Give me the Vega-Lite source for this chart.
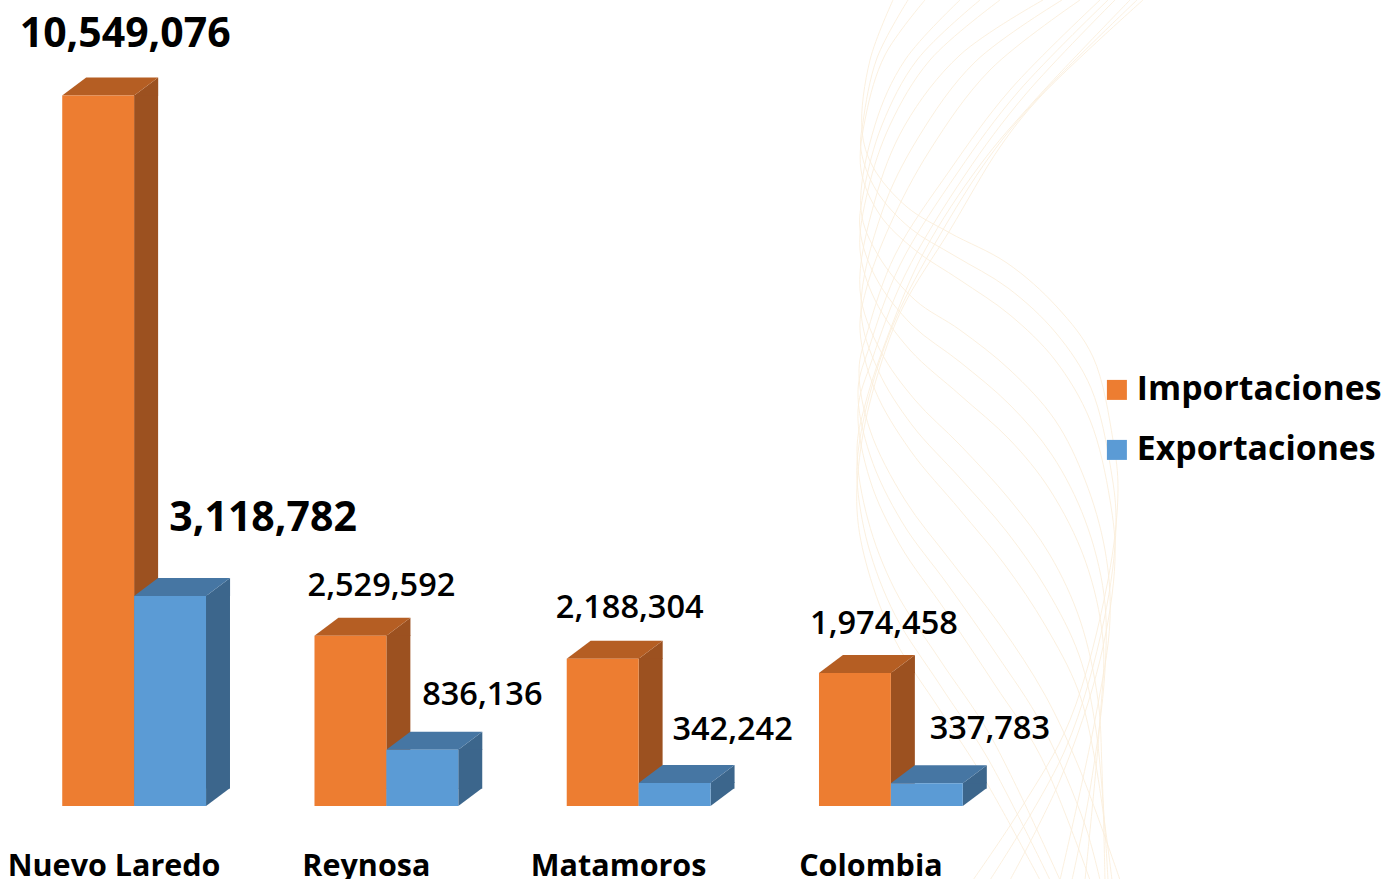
{"$schema":"https://vega.github.io/schema/vega-lite/v6.json","width":1384,"height":879,"padding":0,"autosize":{"type":"none"},"background":"white","config":{"view":{"stroke":null},"font":"Open Sans"},
"datasets":{"bars":[
{"ciudad":"Nuevo Laredo","serie":"Importaciones","valor":10549076},{"ciudad":"Nuevo Laredo","serie":"Exportaciones","valor":3118782},
{"ciudad":"Reynosa","serie":"Importaciones","valor":2529592},{"ciudad":"Reynosa","serie":"Exportaciones","valor":836136},
{"ciudad":"Matamoros","serie":"Importaciones","valor":2188304},{"ciudad":"Matamoros","serie":"Exportaciones","valor":342242},
{"ciudad":"Colombia","serie":"Importaciones","valor":1974458},{"ciudad":"Colombia","serie":"Exportaciones","valor":337783}],
"waves":[
{"w":"k0","a":893,"b":0},{"w":"k0","a":870,"b":60},{"w":"k0","a":862,"b":130},{"w":"k0","a":873,"b":167},{"w":"k0","a":907,"b":207},{"w":"k0","a":950,"b":233},{"w":"k0","a":1007,"b":263},{"w":"k0","a":1057,"b":307},{"w":"k0","a":1093,"b":357},{"w":"k0","a":1113,"b":440},{"w":"k0","a":1118,"b":490},{"w":"k0","a":1108,"b":580},{"w":"k0","a":1070,"b":720},{"w":"k0","a":1020,"b":810},{"w":"k0","a":973,"b":880},
{"w":"m0","a":908,"b":0},{"w":"m0","a":877,"b":58},{"w":"m0","a":863,"b":122},{"w":"m0","a":861,"b":150},{"w":"m0","a":876,"b":190},{"w":"m0","a":910,"b":228},{"w":"m0","a":955,"b":256},{"w":"m0","a":1008,"b":288},{"w":"m0","a":1056,"b":333},{"w":"m0","a":1091,"b":388},{"w":"m0","a":1111,"b":470},{"w":"m0","a":1116,"b":525},{"w":"m0","a":1104,"b":620},{"w":"m0","a":1065,"b":750},{"w":"m0","a":990,"b":880},
{"w":"k1","a":925,"b":0},{"w":"k1","a":885,"b":55},{"w":"k1","a":866,"b":115},{"w":"k1","a":861,"b":170},{"w":"k1","a":880,"b":215},{"w":"k1","a":915,"b":250},{"w":"k1","a":960,"b":280},{"w":"k1","a":1010,"b":315},{"w":"k1","a":1055,"b":360},{"w":"k1","a":1090,"b":420},{"w":"k1","a":1110,"b":500},{"w":"k1","a":1115,"b":560},{"w":"k1","a":1100,"b":660},{"w":"k1","a":1060,"b":780},{"w":"k1","a":1010,"b":880},
{"w":"k2","a":960,"b":0},{"w":"k2","a":905,"b":60},{"w":"k2","a":875,"b":125},{"w":"k2","a":861,"b":210},{"w":"k2","a":878,"b":255},{"w":"k2","a":915,"b":300},{"w":"k2","a":960,"b":330},{"w":"k2","a":1010,"b":370},{"w":"k2","a":1055,"b":420},{"w":"k2","a":1085,"b":480},{"w":"k2","a":1105,"b":550},{"w":"k2","a":1110,"b":620},{"w":"k2","a":1095,"b":720},{"w":"k2","a":1060,"b":880},
{"w":"m2","a":980,"b":0},{"w":"m2","a":917,"b":60},{"w":"m2","a":882,"b":125},{"w":"m2","a":864,"b":190},{"w":"m2","a":860,"b":230},{"w":"m2","a":876,"b":278},{"w":"m2","a":912,"b":325},{"w":"m2","a":960,"b":362},{"w":"m2","a":1010,"b":405},{"w":"m2","a":1052,"b":455},{"w":"m2","a":1085,"b":520},{"w":"m2","a":1104,"b":595},{"w":"m2","a":1105,"b":670},{"w":"m2","a":1090,"b":790},{"w":"m2","a":1072,"b":880},
{"w":"k3","a":1000,"b":0},{"w":"k3","a":930,"b":60},{"w":"k3","a":890,"b":125},{"w":"k3","a":868,"b":190},{"w":"k3","a":860,"b":250},{"w":"k3","a":875,"b":300},{"w":"k3","a":910,"b":350},{"w":"k3","a":960,"b":395},{"w":"k3","a":1010,"b":440},{"w":"k3","a":1050,"b":490},{"w":"k3","a":1085,"b":560},{"w":"k3","a":1103,"b":640},{"w":"k3","a":1100,"b":720},{"w":"k3","a":1085,"b":880},
{"w":"k4","a":1043,"b":0},{"w":"k4","a":960,"b":55},{"w":"k4","a":905,"b":125},{"w":"k4","a":875,"b":200},{"w":"k4","a":860,"b":290},{"w":"k4","a":880,"b":350},{"w":"k4","a":915,"b":400},{"w":"k4","a":960,"b":445},{"w":"k4","a":1010,"b":500},{"w":"k4","a":1050,"b":555},{"w":"k4","a":1080,"b":620},{"w":"k4","a":1098,"b":700},{"w":"k4","a":1102,"b":770},{"w":"k4","a":1105,"b":880},
{"w":"m4","a":1062,"b":0},{"w":"m4","a":975,"b":62},{"w":"m4","a":918,"b":138},{"w":"m4","a":882,"b":212},{"w":"m4","a":861,"b":310},{"w":"m4","a":878,"b":370},{"w":"m4","a":912,"b":425},{"w":"m4","a":960,"b":478},{"w":"m4","a":1007,"b":532},{"w":"m4","a":1047,"b":590},{"w":"m4","a":1079,"b":655},{"w":"m4","a":1096,"b":730},{"w":"m4","a":1108,"b":880},
{"w":"k5","a":1080,"b":0},{"w":"k5","a":990,"b":70},{"w":"k5","a":930,"b":150},{"w":"k5","a":890,"b":225},{"w":"k5","a":866,"b":290},{"w":"k5","a":860,"b":330},{"w":"k5","a":875,"b":390},{"w":"k5","a":910,"b":450},{"w":"k5","a":960,"b":510},{"w":"k5","a":1005,"b":565},{"w":"k5","a":1045,"b":625},{"w":"k5","a":1078,"b":690},{"w":"k5","a":1095,"b":760},{"w":"k5","a":1112,"b":880},
{"w":"k6","a":1100,"b":0},{"w":"k6","a":1010,"b":90},{"w":"k6","a":950,"b":170},{"w":"k6","a":895,"b":255},{"w":"k6","a":868,"b":330},{"w":"k6","a":859,"b":370},{"w":"k6","a":870,"b":430},{"w":"k6","a":905,"b":500},{"w":"k6","a":950,"b":560},{"w":"k6","a":1000,"b":625},{"w":"k6","a":1045,"b":695},{"w":"k6","a":1080,"b":770},{"w":"k6","a":1120,"b":880},
{"w":"m6","a":1108,"b":0},{"w":"m6","a":1018,"b":92},{"w":"m6","a":958,"b":172},{"w":"m6","a":900,"b":265},{"w":"m6","a":870,"b":345},{"w":"m6","a":858,"b":390},{"w":"m6","a":870,"b":455},{"w":"m6","a":902,"b":522},{"w":"m6","a":948,"b":585},{"w":"m6","a":997,"b":655},{"w":"m6","a":1042,"b":725},{"w":"m6","a":1085,"b":825},{"w":"m6","a":1100,"b":880},
{"w":"k7","a":1115,"b":0},{"w":"k7","a":1025,"b":95},{"w":"k7","a":965,"b":175},{"w":"k7","a":905,"b":275},{"w":"k7","a":872,"b":360},{"w":"k7","a":858,"b":410},{"w":"k7","a":870,"b":480},{"w":"k7","a":900,"b":545},{"w":"k7","a":945,"b":610},{"w":"k7","a":995,"b":685},{"w":"k7","a":1040,"b":755},{"w":"k7","a":1090,"b":880},
{"w":"k8","a":1130,"b":0},{"w":"k8","a":1035,"b":100},{"w":"k8","a":980,"b":165},{"w":"k8","a":925,"b":250},{"w":"k8","a":890,"b":330},{"w":"k8","a":865,"b":405},{"w":"k8","a":857,"b":450},{"w":"k8","a":868,"b":520},{"w":"k8","a":895,"b":590},{"w":"k8","a":940,"b":660},{"w":"k8","a":990,"b":735},{"w":"k8","a":1060,"b":880},
{"w":"m8","a":1137,"b":0},{"w":"m8","a":1038,"b":98},{"w":"m8","a":990,"b":156},{"w":"m8","a":937,"b":240},{"w":"m8","a":896,"b":318},{"w":"m8","a":872,"b":386},{"w":"m8","a":859,"b":445},{"w":"m8","a":857,"b":480},{"w":"m8","a":868,"b":545},{"w":"m8","a":895,"b":615},{"w":"m8","a":940,"b":685},{"w":"m8","a":987,"b":757},{"w":"m8","a":1050,"b":880},
{"w":"k9","a":1143,"b":0},{"w":"k9","a":1040,"b":97},{"w":"k9","a":1000,"b":147},{"w":"k9","a":950,"b":230},{"w":"k9","a":903,"b":307},{"w":"k9","a":880,"b":367},{"w":"k9","a":862,"b":440},{"w":"k9","a":857,"b":510},{"w":"k9","a":868,"b":570},{"w":"k9","a":895,"b":640},{"w":"k9","a":940,"b":710},{"w":"k9","a":985,"b":780},{"w":"k9","a":1040,"b":880}
]},
"resolve":{"scale":{"x":"independent","y":"independent"},"axis":{"x":"independent","y":"independent"}},
"layer":[
{"data":{"name":"waves"},"mark":{"type":"line","interpolate":"catmull-rom","stroke":"#fbeedb","strokeWidth":0.9,"clip":true},
"encoding":{"x":{"field":"a","type":"quantitative","axis":null,"scale":{"domain":[0,1384],"range":[0,1384],"nice":false,"zero":false}},"y":{"field":"b","type":"quantitative","axis":null,"scale":{"domain":[0,879],"range":[0,879],"nice":false,"zero":false}},"detail":{"field":"w"},"order":{"field":"b","type":"quantitative"}}},
{"data":{"name":"bars"},
"encoding":{
"x":{"field":"ciudad","type":"nominal","sort":null,"title":null,"scale":{"range":[8,1017],"paddingInner":0.43,"paddingOuter":0.215},"axis":{"orient":"bottom","offset":-73,"domain":false,"ticks":false,"labelAngle":0,"labelOffset":-20,"labelPadding":60,"labelFontSize":30.5,"labelFontWeight":"bold","labelFont":"Open Sans","labelColor":"#000000","labelBaseline":"middle","labelOverlap":false,"labelFlush":false,"labelLimit":0,"grid":false}},
"xOffset":{"field":"serie","type":"nominal","scale":{"domain":["Importaciones","Exportaciones"],"paddingInner":0,"paddingOuter":0}},
"y":{"field":"valor","type":"quantitative","axis":null,"stack":null,"scale":{"domain":[0,11969100],"range":[806,0],"nice":false}}},
"layer":[
{"transform":[{"filter":"datum.serie==='Importaciones'"}],"mark":{"type":"rule","strokeWidth":24,"yOffset":-0.7,"y2Offset":-17.5,"stroke":"#9c5120"},"encoding":{"x":{"field":"ciudad","type":"nominal","sort":null,"bandPosition":0.5833},"xOffset":null,"y2":{"datum":0}}},
{"transform":[{"filter":"datum.serie==='Exportaciones'"}],"mark":{"type":"rule","strokeWidth":24,"yOffset":-0.7,"y2Offset":-17.5,"stroke":"#3c668c"},"encoding":{"x":{"field":"ciudad","type":"nominal","sort":null,"bandPosition":1.0833},"xOffset":null,"y2":{"datum":0}}},
{"mark":{"type":"point","filled":true,"opacity":1,"size":400,"shape":"M3.6,0 L6,-1.8 L6,0 Z"},"encoding":{"color":{"condition":{"test":"datum.serie==='Importaciones'","value":"#9c5120"},"value":"#3c668c"}}},
{"mark":{"type":"point","filled":true,"opacity":1,"size":400,"shape":"M3.6,0 L6,-1.8 L3.6,-1.8 Z"},"encoding":{"y":{"datum":0},"color":{"condition":{"test":"datum.serie==='Importaciones'","value":"#9c5120"},"value":"#3c668c"}}},
{"mark":{"type":"point","filled":true,"opacity":1,"size":400,"shape":"M-3.6,0 L3.6,0 L6,-1.8 L-1.2,-1.8 Z"},"encoding":{"color":{"condition":{"test":"datum.serie==='Importaciones'","value":"#b55e23"},"value":"#4676a3"}}},
{"mark":{"type":"bar"},"encoding":{"y2":{"datum":0},"color":{"field":"serie","type":"nominal","scale":{"domain":["Importaciones","Exportaciones"],"range":["#ed7d31","#5b9bd5"]},"legend":{"orient":"none","legendX":1100,"legendY":373,"title":null,"symbolType":"square","symbolSize":400,"symbolOpacity":1,"labelFontSize":33.8,"labelFontWeight":"bold","labelFont":"Open Sans","labelColor":"#000000","rowPadding":25,"labelOffset":3,"labelLimit":0}}}},
{"transform":[{"filter":"datum.valor===10549076"}],"mark":{"type":"text","dx":27,"dy":-61,"fontSize":41,"fontWeight":"bold","color":"#000"},"encoding":{"text":{"field":"valor","type":"quantitative","format":","}}},
{"transform":[{"filter":"datum.valor===3118782"}],"mark":{"type":"text","dx":93,"dy":-77,"fontSize":41,"fontWeight":"bold","color":"#000"},"encoding":{"text":{"field":"valor","type":"quantitative","format":","}}},
{"transform":[{"filter":"datum.valor===2529592"}],"mark":{"type":"text","dx":31,"dy":-50,"fontSize":32.5,"fontWeight":600,"color":"#000"},"encoding":{"text":{"field":"valor","type":"quantitative","format":","}}},
{"transform":[{"filter":"datum.valor===836136"}],"mark":{"type":"text","dx":60,"dy":-55,"fontSize":32.5,"fontWeight":600,"color":"#000"},"encoding":{"text":{"field":"valor","type":"quantitative","format":","}}},
{"transform":[{"filter":"datum.valor===2188304"}],"mark":{"type":"text","dx":27,"dy":-51,"fontSize":32.5,"fontWeight":600,"color":"#000"},"encoding":{"text":{"field":"valor","type":"quantitative","format":","}}},
{"transform":[{"filter":"datum.valor===342242"}],"mark":{"type":"text","dx":58,"dy":-53,"fontSize":32.5,"fontWeight":600,"color":"#000"},"encoding":{"text":{"field":"valor","type":"quantitative","format":","}}},
{"transform":[{"filter":"datum.valor===1974458"}],"mark":{"type":"text","dx":29,"dy":-49,"fontSize":32.5,"fontWeight":600,"color":"#000"},"encoding":{"text":{"field":"valor","type":"quantitative","format":","}}},
{"transform":[{"filter":"datum.valor===337783"}],"mark":{"type":"text","dx":63,"dy":-54,"fontSize":32.5,"fontWeight":600,"color":"#000"},"encoding":{"text":{"field":"valor","type":"quantitative","format":","}}}
]}
]}
